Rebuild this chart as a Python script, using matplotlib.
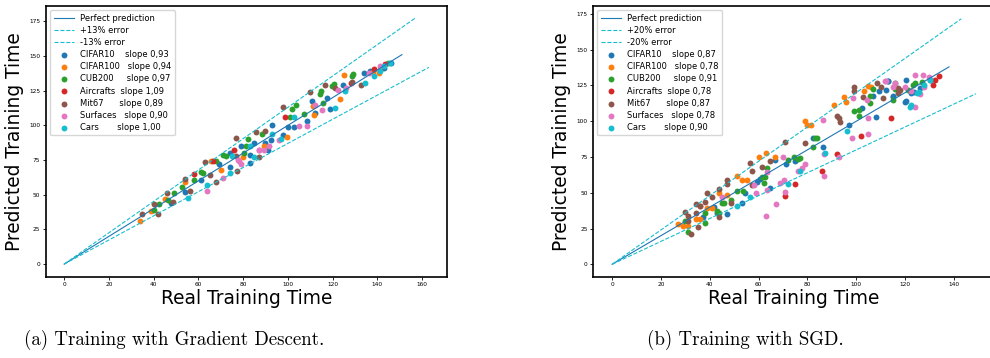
import numpy as np
import matplotlib.pyplot as plt

# dataset names, colours and fitted slopes
names = ['CIFAR10', 'CIFAR100', 'CUB200', 'Aircrafts', 'Mit67', 'Surfaces', 'Cars']
pads = [4, 3, 5, 2, 6, 3, 7]
colors = ['#1f77b4', '#ff7f0e', '#2ca02c', '#d62728', '#8c564b', '#e377c2', '#17becf']
slopes_gd = ['0,93', '0,94', '0,97', '1,09', '0,89', '0,90', '1,00']
slopes_sgd = ['0,87', '0,78', '0,91', '0,78', '0,87', '0,78', '0,90']

# (real, predicted) training times, gradient descent
gd_cifar10 = [(47.8, 44), (54.1, 52), (61, 60.8), (69.2, 72), (74, 70), (74, 80), (83, 79), (83, 73),
              (91, 82), (79, 84.8), (85, 87.4), (89.9, 87.4), (92.9, 100.4), (92.4, 89.6), (99.9, 98.7),
              (97.8, 93.4), (102.9, 98.7), (108.5, 103.5), (110.8, 117.4), (112.3, 109), (117.7, 119.7),
              (118.9, 112), (124.6, 129.3), (133.9, 137.7), (136.9, 138.9), (142.8, 141.3), (146.1, 145.2)]
gd_cifar100 = [(34, 31.2), (38.8, 38), (44.9, 47), (54.1, 59), (65.8, 74), (70.1, 68), (80, 77),
               (89.4, 84.8), (99.6, 91.5), (111.2, 114.3), (111.8, 107.2), (123.1, 119), (125, 136.2),
               (137.9, 138.2), (140.6, 137.7)]
gd_cub200 = [(40.3, 39), (42.2, 43), (46.2, 46.3), (49, 51), (52.9, 55.3), (58, 60.8), (61.2, 66.2),
             (61.9, 66), (68, 74), (71, 79), (72.4, 78), (80.3, 80), (82, 90), (81.2, 85.4), (88.5, 94),
             (101.8, 111.7), (103.8, 114.8), (100.8, 105.9), (107, 107.9), (114.2, 122.8), (114.8, 124.5),
             (119.7, 128.6), (120.8, 130), (115.9, 116), (128.7, 135.5), (129.1, 136.7), (144.6, 144.7)]
gd_aircrafts = [(58, 65), (66.4, 74.4), (76, 82), (98.8, 105.9), (128.2, 130.7), (138.7, 140.6),
                (143.6, 144.2)]
gd_mit67 = [(35, 36.3), (40, 43), (42, 36), (45.9, 51), (48.8, 44.5), (54.1, 61), (56.1, 53), (62.9, 73.8),
            (65, 64), (68, 59.4), (77, 78), (77.3, 67), (87, 77), (76.9, 90.8), (85.9, 95), (89.9, 96),
            (97.8, 113), (110, 123.8), (116.7, 129.3), (121.1, 127), (128.7, 131.5), (132.8, 129.3),
            (141.3, 140.1)]
gd_surfaces = [(64, 52.8), (71, 62), (78, 74), (79, 72), (87, 82), (77.5, 74.8), (89.4, 82.4), (87.2, 82.4),
               (91.4, 84.8), (95.9, 89.6), (104.8, 99.6), (108.5, 99.4), (112.3, 115), (115.2, 111),
               (122.2, 125.7), (126.1, 127), (136.1, 137.7), (141.3, 142.5)]
gd_cars = [(55.2, 48), (64, 57), (74, 66), (75, 78), (85, 77), (82.9, 85.4), (92.9, 94), (96.9, 90),
           (102.9, 105.9), (121.1, 112.5), (125.7, 124.5), (134.6, 130.7), (138.7, 135.3), (145.5, 144.7),
           (142.8, 142.5), (141.3, 138.9)]

# (real, predicted) training times, SGD
sgd_cifar10 = [(37.2, 33.2), (41.9, 40), (43, 35.6), (46.9, 35.2), (53.3, 43.1), (54.3, 50),
               (59.4, 57.3), (60.4, 59.3), (64.7, 53), (66.7, 72.8), (71.2, 70), (75, 72), (82.2, 88),
               (86.3, 81.8), (97.1, 97.3), (102.5, 109.4), (108.1, 103.3), (106.7, 117.6), (109.4, 121.3),
               (113.2, 128.3), (115, 117.6), (120.4, 128.8), (120.4, 114.1), (123.7, 120.5), (126.1, 123),
               (130, 128.8), (114.9, 117.1), (119.9, 113.6), (112.2, 121.9), (113, 128), (122.3, 119.9)]
sgd_cifar100 = [(26.9, 28.2), (28.9, 27), (31, 27), (34.3, 31.9), (36.2, 31.9), (36, 41), (39, 39),
                (40.9, 39), (43.9, 50), (46.9, 48.4), (51.2, 61.9), (53.3, 58.9), (55.3, 58.9), (60.1, 75.2),
                (63, 78), (66.7, 75.2), (79, 100.4), (80, 97.6), (81.4, 97.6), (90.9, 111.3), (95, 117.1),
                (95.9, 113.6), (103.2, 121.3), (105, 124.6), (106, 123.7)]
sgd_cub200 = [(31, 22.5), (30, 30), (37.9, 36), (38.1, 29), (43, 37.4), (43.9, 36), (44.9, 43), (46, 43),
              (48.9, 44.9), (51.2, 51.3), (53.5, 51.3), (61.5, 61.2), (62.1, 57), (62.5, 61.2), (63.6, 67),
              (72, 72.8), (76, 73.3), (77, 74), (74.3, 75), (83.1, 88), (84, 88), (82.2, 81.8),
              (99.1, 107.3), (101.3, 107.8), (101.3, 103.6), (105.7, 113), (105.7, 117.6), (106.7, 122.2),
              (116, 122.2), (116, 126.8), (123.4, 125.2), (126.8, 127.7), (115.2, 114.8), (121, 122),
              (124, 127)]
sgd_aircrafts = [(70.9, 48), (75, 56), (85.8, 65.5), (92, 77), (101.9, 89.8), (114.1, 102.2),
                 (131.3, 125.2), (132.3, 128.8), (134, 131.8)]
sgd_mit67 = [(30, 36.3), (31, 33.5), (31, 30.3), (32.2, 21.3), (34.3, 42), (34.3, 36), (35.1, 25.8),
             (36.2, 40.4), (38.1, 43.7), (39, 50), (40.9, 47), (43.9, 33.3), (43.9, 52.6), (46.9, 55.8),
             (46.9, 58.9), (48.9, 42.6), (56.3, 71), (57.4, 55.4), (57.4, 65.2), (61.5, 68.3), (64.7, 72.2),
             (70.9, 85.7), (79, 84.6), (92, 103.6), (93, 102), (93.5, 99.5), (99.1, 124.1), (99.1, 121),
             (102.9, 117.1), (108.3, 126.9), (110, 124.1), (117.2, 123), (117.2, 119.9), (111.1, 116.4),
             (118, 122)]
sgd_surfaces = [(44.9, 47), (58, 55.4), (59.1, 50), (63, 34), (67, 42), (63.6, 52), (63.6, 64.6),
                (69.9, 75.2), (70.2, 58.7), (68.8, 56.7), (70.9, 50.8), (76, 65.5), (77.9, 67.3), (79, 70),
                (86.9, 61.9), (86.9, 77), (93, 75.2), (86.3, 100.9), (98.2, 88.6), (105, 91), (98.8, 116),
                (105, 102.1), (104.3, 114.8), (111.8, 128.3), (116, 126.4), (122.3, 121), (124.1, 132.3),
                (127.2, 132.3), (127.8, 124.1), (129.9, 130.7), (124.1, 110.3), (126.1, 118.8),
                (115.2, 123.6), (112.2, 128), (119.9, 123.6)]
sgd_cars = [(51.2, 40.4), (56.3, 46.8), (71.9, 56), (77, 65.5), (87, 77.8), (96.4, 93.1), (122.3, 111.3),
            (125.5, 120.1), (130, 128.8), (122, 110.3), (125, 119.9), (127.8, 125.1)]

gd_sets = [gd_cifar10, gd_cifar100, gd_cub200, gd_aircrafts, gd_mit67, gd_surfaces, gd_cars]
sgd_sets = [sgd_cifar10, sgd_cifar100, sgd_cub200, sgd_aircrafts, sgd_mit67, sgd_surfaces, sgd_cars]

# error bands and where each reference line stops (x end)
gd_err = 0.13
gd_line_ends = [151, 157, 163]
sgd_err = 0.20
sgd_line_ends = [138, 143, 149]

captions = ['(a) Training with Gradient Descent.', '(b) Training with SGD.']


def draw_panel(ax, sets, slopes, err, ends, xlim, ylim, xticks):
    pct = int(round(err * 100))
    x0 = np.array([0, ends[0]])
    ax.plot(x0, x0, color='#1f77b4', lw=0.8, label='Perfect prediction')
    x1 = np.array([0, ends[1]])
    ax.plot(x1, x1 * (1 + err), '--', color='#17becf', lw=0.8, label='+%d%% error' % pct)
    x2 = np.array([0, ends[2]])
    ax.plot(x2, x2 * (1 - err), '--', color='#17becf', lw=0.8, label='-%d%% error' % pct)
    for pts, name, pad, col, sl in zip(sets, names, pads, colors, slopes):
        arr = np.array(pts)
        ax.scatter(arr[:, 0], arr[:, 1], s=18, color=col, linewidths=0,
                   label=name + ' ' * pad + 'slope ' + sl)
    ax.set_xlim(xlim)
    ax.set_ylim(ylim)
    ax.set_xticks(xticks)
    ax.set_yticks(np.arange(0, 176, 25))
    ax.tick_params(labelsize=4.2, length=2.5, width=0.6, pad=1.5)
    for sp in ax.spines.values():
        sp.set_linewidth(1.2)
    ax.set_xlabel('Real Training Time', fontsize=13.4, labelpad=1)
    ax.set_ylabel('Predicted Training Time', fontsize=13.4, labelpad=4)
    ax.legend(loc='upper left', fontsize=6, handlelength=2.4, labelspacing=0.38,
              borderaxespad=0.5, framealpha=0.8)


fig = plt.figure(figsize=(9.9, 3.58), dpi=100)
ax1 = fig.add_axes([0.0465, 0.227, 0.4047, 0.756])
ax2 = fig.add_axes([0.5993, 0.227, 0.4047, 0.756])

draw_panel(ax1, gd_sets, slopes_gd, gd_err, gd_line_ends, (-8.1, 171), (-9.1, 186),
           np.arange(0, 161, 20))
draw_panel(ax2, sgd_sets, slopes_sgd, sgd_err, sgd_line_ends, (-7.7, 156.4), (-8.7, 180.5),
           np.arange(0, 141, 20))

fig.text(0.176, 0.05, captions[0], fontsize=13.6, family='cmr10', ha='center', va='center')
fig.text(0.753, 0.05, captions[1], fontsize=13.6, family='cmr10', ha='center', va='center')

fig.savefig('out.png', dpi=100)
